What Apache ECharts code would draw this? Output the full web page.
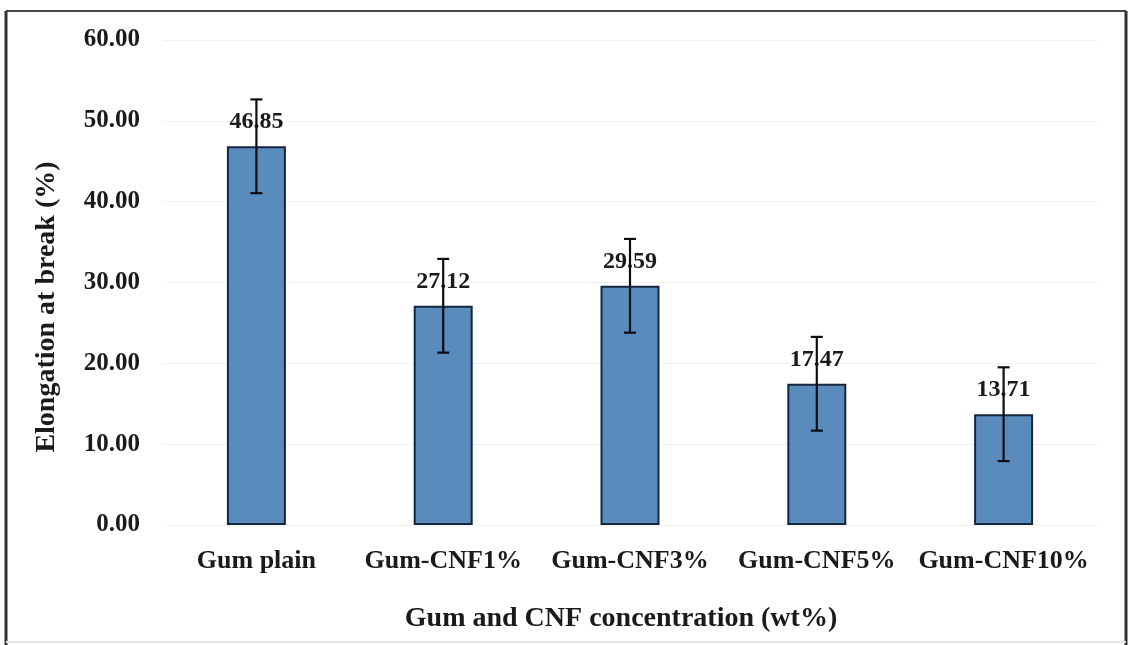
<!DOCTYPE html>
<html>
<head>
<meta charset="utf-8">
<script src="https://cdn.jsdelivr.net/npm/echarts@6/dist/echarts.min.js"></script>
<style>
  html, body { margin: 0; padding: 0; background: #fff; }
  #chart { width: 1128px; height: 645px; }
</style>
</head>
<body>
<div id="chart"></div>
<script>
// Elongation at break for gum films with increasing CNF loading
const categories = ['Gum plain', 'Gum-CNF1%', 'Gum-CNF3%', 'Gum-CNF5%', 'Gum-CNF10%'];
const elongation = [46.85, 27.12, 29.59, 17.47, 13.71];
const stdDev = [5.8, 5.8, 5.8, 5.8, 5.8];
const yTicks = [0, 10, 20, 30, 40, 50, 60];

const SERIF = '"Liberation Serif", "Times New Roman", serif';
const INK = '#1a1a1a';

const chart = echarts.init(document.getElementById('chart'), null, { renderer: 'canvas' });

const errorData = elongation.map((v, i) => [i, v - stdDev[i], v + stdDev[i]]);

chart.setOption({
  backgroundColor: '#ffffff',
  animation: false,
  grid: { left: 163, right: 31, top: 40, bottom: 120, containLabel: false },
  xAxis: {
    type: 'category',
    data: categories,
    axisLine: { show: false },
    axisTick: { show: false },
    axisLabel: {
      color: INK, fontFamily: SERIF, fontWeight: 'bold', fontSize: 26,
      margin: 23, interval: 0
    },
    name: 'Gum and CNF concentration (wt%)',
    nameLocation: 'middle',
    nameGap: 80,
    nameTextStyle: {
      color: INK, fontFamily: SERIF, fontWeight: 'bold', fontSize: 28,
      padding: [0, 18, 0, 0]
    }
  },
  yAxis: {
    type: 'value',
    min: yTicks[0],
    max: yTicks[yTicks.length - 1],
    interval: 10,
    axisLine: { show: false },
    axisTick: { show: false },
    splitLine: { lineStyle: { color: '#f1f1f1', width: 1 } },
    axisLabel: {
      color: INK, fontFamily: SERIF, fontWeight: 'bold', fontSize: 25,
      margin: 23,
      formatter: v => v.toFixed(2)
    }
  },
  graphic: [
    // outer frame
    { type: 'line', shape: { x1: 6, y1: 11, x2: 1126, y2: 11 }, style: { stroke: '#444', lineWidth: 2 } },
    { type: 'line', shape: { x1: 6, y1: 11, x2: 6, y2: 645 }, style: { stroke: '#333', lineWidth: 3 } },
    { type: 'line', shape: { x1: 1126, y1: 11, x2: 1126, y2: 645 }, style: { stroke: '#333', lineWidth: 3 } },
    { type: 'line', shape: { x1: 6, y1: 642, x2: 1126, y2: 642 }, style: { stroke: '#e4e4e4', lineWidth: 2 } },
    // y-axis title
    {
      type: 'text', x: 47, y: 307, rotation: Math.PI / 2,
      style: {
        text: 'Elongation at break (%)', fill: INK,
        font: 'bold 28px ' + SERIF, align: 'center', verticalAlign: 'middle'
      }
    }
  ],
  series: [
    {
      type: 'bar',
      data: elongation,
      barWidth: 59,
      itemStyle: { color: '#5a8bbd', borderColor: '#14273d', borderWidth: 2 },
      label: {
        show: true, position: 'top', distance: 12,
        color: INK, fontFamily: SERIF, fontWeight: 'bold', fontSize: 24,
        formatter: p => p.value.toFixed(2)
      },
      z: 2
    },
    {
      type: 'custom',
      data: errorData,
      z: 5,
      renderItem: (params, api) => {
        const x = api.value(0);
        const lo = api.coord([x, api.value(1)]);
        const hi = api.coord([x, api.value(2)]);
        const cap = 6;
        const style = { stroke: '#0d0d14', lineWidth: 2.2 };
        return {
          type: 'group',
          children: [
            { type: 'line', shape: { x1: hi[0], y1: hi[1], x2: lo[0], y2: lo[1] }, style },
            { type: 'line', shape: { x1: hi[0] - cap, y1: hi[1], x2: hi[0] + cap, y2: hi[1] }, style },
            { type: 'line', shape: { x1: lo[0] - cap, y1: lo[1], x2: lo[0] + cap, y2: lo[1] }, style }
          ]
        };
      }
    }
  ]
});
</script>
</body>
</html>
